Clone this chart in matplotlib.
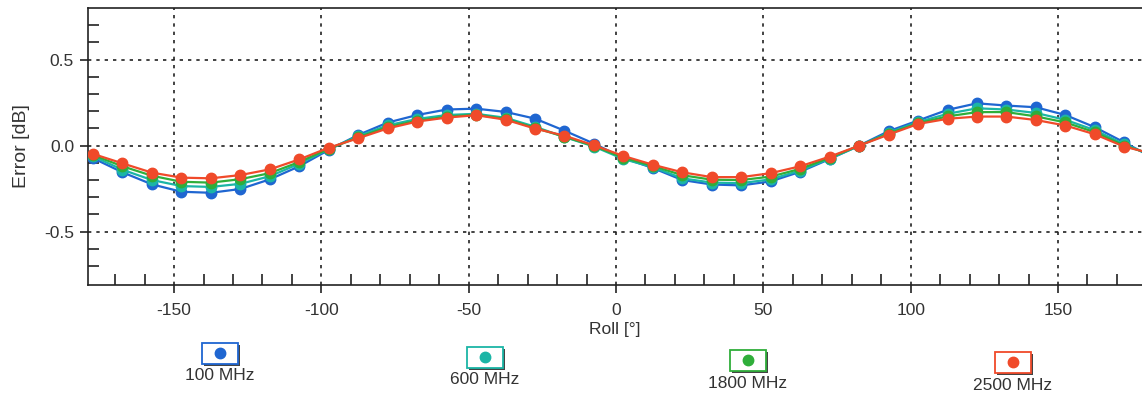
import matplotlib.pyplot as plt
from matplotlib.patches import Rectangle
from matplotlib.lines import Line2D

plt.rcParams["axes.unicode_minus"] = False
plt.rcParams["font.family"] = ["Liberation Sans", "DejaVu Sans"]

# roll angles (deg), one sample every 10 deg; the last one wraps past the right edge
roll = [-177.5, -167.5, -157.5, -147.5, -137.5, -127.5, -117.5, -107.5, -97.5,
        -87.5, -77.5, -67.5, -57.5, -47.5, -37.5, -27.5, -17.5, -7.5,
        2.5, 12.5, 22.5, 32.5, 42.5, 52.5, 62.5, 72.5, 82.5,
        92.5, 102.5, 112.5, 122.5, 132.5, 142.5, 152.5, 162.5, 172.5, 182.5]

err_100 = [-0.073, -0.155, -0.225, -0.268, -0.274, -0.252, -0.196, -0.120, -0.025,
           0.062, 0.134, 0.178, 0.210, 0.215, 0.196, 0.157, 0.087, 0.012,
           -0.072, -0.130, -0.200, -0.226, -0.231, -0.208, -0.152, -0.078, 0.000,
           0.084, 0.146, 0.208, 0.246, 0.233, 0.223, 0.178, 0.107, 0.019, -0.073]
err_600 = [-0.062, -0.140, -0.200, -0.235, -0.240, -0.222, -0.178, -0.105, -0.020,
           0.055, 0.118, 0.155, 0.178, 0.185, 0.162, 0.110, 0.050, -0.005,
           -0.078, -0.125, -0.190, -0.215, -0.218, -0.196, -0.145, -0.075, -0.002,
           0.075, 0.137, 0.185, 0.217, 0.210, 0.190, 0.150, 0.090, 0.008, -0.062]
err_1800 = [-0.055, -0.120, -0.175, -0.210, -0.215, -0.195, -0.160, -0.095, -0.018,
            0.048, 0.108, 0.145, 0.168, 0.180, 0.155, 0.103, 0.052, -0.002,
            -0.070, -0.118, -0.172, -0.198, -0.200, -0.180, -0.135, -0.070, 0.000,
            0.070, 0.130, 0.170, 0.195, 0.195, 0.170, 0.135, 0.078, 0.000, -0.055]
err_2500 = [-0.048, -0.103, -0.157, -0.186, -0.190, -0.171, -0.138, -0.080, -0.012,
            0.043, 0.100, 0.140, 0.163, 0.177, 0.151, 0.099, 0.058, 0.002,
            -0.060, -0.111, -0.155, -0.183, -0.183, -0.160, -0.120, -0.064, 0.000,
            0.064, 0.126, 0.156, 0.169, 0.169, 0.149, 0.117, 0.066, -0.006, -0.048]

labels = ["100 MHz", "600 MHz", "1800 MHz", "2500 MHz"]
series = [err_100, err_600, err_1800, err_2500]
colors = ["#1f66d1", "#1bb5a6", "#2fae3a", "#f04a2a"]

fig = plt.figure(figsize=(11.42, 3.94), dpi=100)
ax = fig.add_axes([88 / 1142, 109 / 394, 1 - 88 / 1142, 277 / 394])

for vals, col in zip(series, colors):
    ax.plot(roll, vals, color=col, lw=1.6, marker="o", ms=7.5,
            markeredgecolor=col, zorder=3)

ax.set_xlim(-179.2, 178.5)
ax.set_ylim(-0.81, 0.80)

ax.set_xticks([-150, -100, -50, 0, 50, 100, 150])
ax.set_xticks(range(-170, 180, 10), minor=True)
ax.set_yticks([-0.5, 0.0, 0.5])
ax.set_yticklabels(["-0.5", "0.0", "0.5"])
ax.set_yticks([v / 10 for v in range(-7, 8)], minor=True)

ax.tick_params(axis="both", which="major", direction="out", length=6, width=1.2,
               labelsize=12.5, colors="#222", labelcolor="#333")
ax.tick_params(axis="both", which="minor", direction="in", length=8, width=1.2,
               colors="#222")
ax.tick_params(axis="x", which="major", pad=7)
ax.tick_params(axis="y", which="major", pad=4)

ax.grid(True, which="major", color="#222", lw=1.2, ls=(0, (2, 3)))
for side in ["left", "bottom", "top"]:
    ax.spines[side].set_linewidth(1.2)
    ax.spines[side].set_color("#222")
ax.spines["right"].set_visible(False)

ax.set_xlabel("Roll [°]", fontsize=12.5, color="#333", labelpad=3)
ax.set_ylabel("Error [dB]", fontsize=14, color="#333", labelpad=10)

# custom legend row under the plot
leg_x = [220, 485, 748, 1013]
leg_y = [353, 357, 360, 362]
for cx, cy, col, lab in zip(leg_x, leg_y, colors, labels):
    bw, bh = 36, 21
    x0 = (cx - bw / 2) / 1142
    y0 = (394 - cy - bh / 2) / 394
    fig.add_artist(Rectangle((x0 + 2 / 1142, y0 - 2 / 394), bw / 1142, bh / 394,
                             transform=fig.transFigure, facecolor="#444",
                             edgecolor="none"))
    fig.add_artist(Rectangle((x0, y0), bw / 1142, bh / 394,
                             transform=fig.transFigure, facecolor="white",
                             edgecolor=col, lw=1.3))
    fig.add_artist(Line2D([cx / 1142], [(394 - cy) / 394], marker="o", ms=7.5,
                          color=col, transform=fig.transFigure))
    fig.text(cx / 1142, (394 - cy - 23) / 394, lab, ha="center", va="center",
             fontsize=12.5, color="#333")

fig.savefig("out.png", dpi=100)
